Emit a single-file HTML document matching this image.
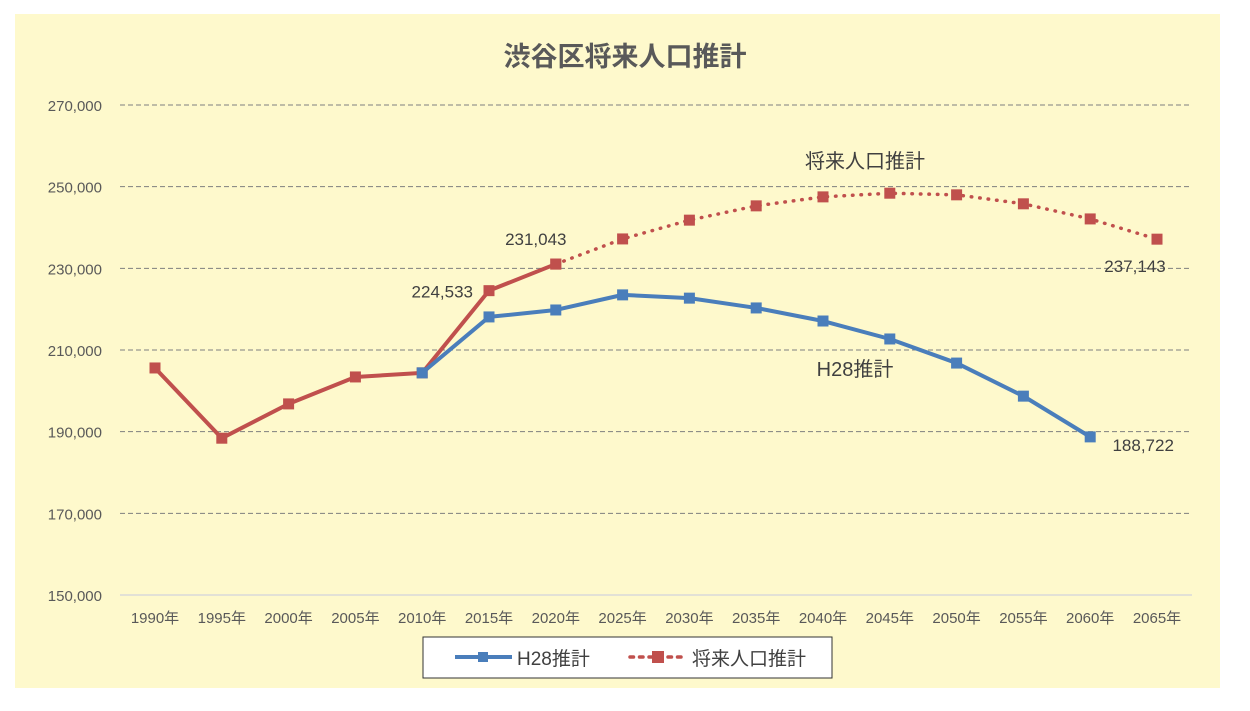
<!DOCTYPE html>
<html><head><meta charset="utf-8"><style>
body{margin:0;background:#fff;width:1250px;height:706px;overflow:hidden}
svg text{font-family:"Liberation Sans","Noto Sans CJK JP",sans-serif}
</style></head><body>
<svg width="1250" height="706">
<rect x="15" y="14" width="1205" height="674" fill="#fef9cc"/>
<text x="625" y="66" text-anchor="middle" font-size="27" font-weight="bold" fill="#595959">渋谷区将来人口推計</text>
<g id="grid"></g><g id="xaxis"></g><g id="series"></g><g id="labels"></g>
<g>
<rect x="423" y="637" width="409" height="41" fill="#fff" stroke="#333" stroke-width="1"/>
<line x1="455" y1="657" x2="512" y2="657" stroke="#4a7ebb" stroke-width="4"/>
<rect x="478" y="652" width="10" height="10" fill="#4a7ebb"/>
<text x="517" y="665" font-size="19" fill="#404040">H28推計</text>
<line x1="630" y1="657" x2="686" y2="657" stroke="#c0504d" stroke-width="3.5" stroke-dasharray="3.5 6" stroke-linecap="round"/>
<rect x="652" y="651" width="12" height="12" fill="#c0504d"/>
<text x="692" y="665" font-size="19" fill="#404040">将来人口推計</text>
</g>
</svg>
<script>
const years=["1990年","1995年","2000年","2005年","2010年","2015年","2020年","2025年","2030年","2035年","2040年","2045年","2050年","2055年","2060年","2065年"];
const yTicks=[150000,170000,190000,210000,230000,250000,270000];
const h28=[null,null,null,null,204400,218100,219800,223500,222700,220300,217100,212700,206800,198700,188722,null];
const actual=[205600,188400,196800,203400,204400,224533,231043,null,null,null,null,null,null,null,null,null];
const future=[null,null,null,null,null,null,231043,237200,241800,245300,247500,248400,248000,245800,242100,237143];
const NS="http://www.w3.org/2000/svg";
const x0=155,dx=66.8,yMin=150000,yMax=270000,py0=595,py1=105;
const X=i=>x0+i*dx, Y=v=>py0-(v-yMin)/(yMax-yMin)*(py0-py1);
function mk(t,a,p){const e=document.createElementNS(NS,t);for(const k in a)e.setAttribute(k,a[k]);document.getElementById(p).appendChild(e);return e;}
yTicks.forEach(v=>{
 if(v>yMin){const l=mk('line',{x1:120,x2:1192,y1:Y(v),y2:Y(v),stroke:'#7f7f7f','stroke-dasharray':'5 3'},'grid');
 
 }
 const t=mk('text',{x:102,y:Y(v)+6,'text-anchor':'end','font-size':15,fill:'#595959'},'grid');t.textContent=v.toLocaleString('en-US');
 
 
});
const ax=mk('line',{x1:120,x2:1192,y1:py0,y2:py0,stroke:'#d9d9d9','stroke-width':1.5},'xaxis');


years.forEach((y,i)=>{const t=mk('text',{x:X(i),y:623,'text-anchor':'middle','font-size':15,fill:'#595959'},'xaxis');t.textContent=y;
 
 });
function draw(data,color,dash,name){
 const pts=data.map((v,i)=>v==null?null:[X(i),Y(v)]).filter(p=>p);
 const a={points:pts.map(p=>p.join(',')).join(' '),fill:'none',stroke:color,'stroke-width':dash?3.5:4,'stroke-linejoin':'round','stroke-linecap':'round'};
 if(dash)a['stroke-dasharray']='0.5 8';
 const pl=mk('polyline',a,'series');
 
 
 return pts;
}
function marks(pts,color,name){pts.forEach(p=>{const r=mk('rect',{x:p[0]-5.5,y:p[1]-5.5,width:11,height:11,fill:color},'series');
 
 });}
const pf=draw(future,'#c0504d',true,'future');
const pa=draw(actual,'#c0504d',false,'actual');
const ph=draw(h28,'#4a7ebb',false,'h28');
marks(pf,'#c0504d','future');marks(pa,'#c0504d','actual');marks(ph,'#4a7ebb','h28');
function lab(s,x,y,fs,w,anchor,name){const t=mk('text',{x:x,y:y,'font-size':fs,fill:w?'#000':'#404040','font-weight':w?'bold':'normal','text-anchor':anchor||'middle'},'labels');t.textContent=s;
 
 }
lab(actual[5].toLocaleString('en-US'),X(5)-16,Y(actual[5])+7,17,false,'end','label-2015');
lab(actual[6].toLocaleString('en-US'),X(6)-20,Y(actual[6])-19,17,false,'middle','label-2020');
lab(future[15].toLocaleString('en-US'),X(15)-22,Y(future[15])+33,17,false,'middle','label-2065');
lab(h28[14].toLocaleString('en-US'),X(14)+53,Y(h28[14])+14,17,false,'middle','label-2060');
lab('将来人口推計',865,168,20,false,'middle','future-series-label');
lab('H28推計',855,376,20,false,'middle','h28-series-label');
</script>
</body></html>
